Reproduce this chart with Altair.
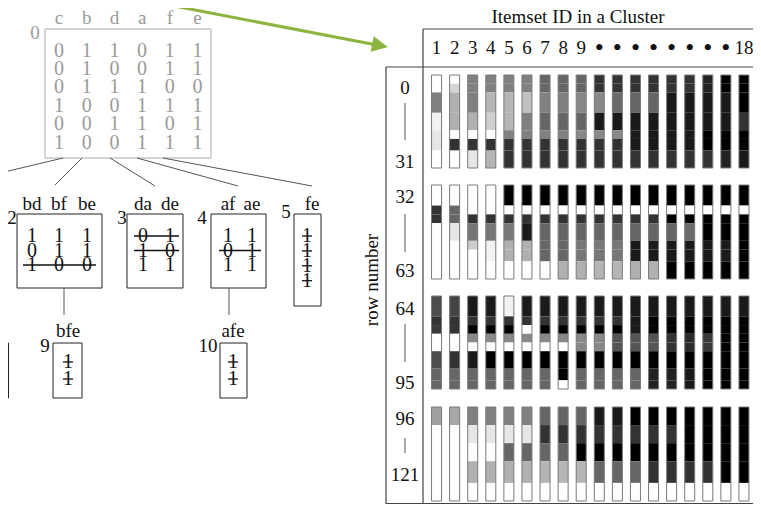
import altair as alt
import pandas as pd

SERIF = "Liberation Serif"

# ---------------- DATA ----------------
root_items = ["c", "b", "d", "a", "f", "e"]
root_matrix = [
    [0, 1, 1, 0, 1, 1],
    [0, 1, 0, 0, 1, 1],
    [0, 1, 1, 1, 0, 0],
    [1, 0, 0, 1, 1, 1],
    [0, 0, 1, 1, 0, 1],
    [1, 0, 0, 1, 1, 1],
]
node_ids = ["2", "3", "4", "5", "9", "10"]
node_items = [["bd", "bf", "be"], ["da", "de"], ["af", "ae"], ["fe"], ["bfe"], ["afe"]]
node_values = [
    [[1, 1, 1], [0, 1, 1], [1, 0, 0]],
    [[0, 1], [1, 0], [1, 1]],
    [[1, 1], [0, 1], [1, 1]],
    [[1], [1], [1], [1]],
    [[1], [1]],
    [[1], [1]],
]
node_pruned = [[2], [0, 1], [1], [0, 1, 2, 3], [0, 1], [0, 1]]
tree_edges = [("0", "1"), ("0", "2"), ("0", "3"), ("0", "4"), ("0", "5"), ("2", "9"), ("4", "10")]

panel_title = "Itemset ID in a Cluster"
row_axis_title = "row number"
itemset_ids = list(range(1, 19))
itemset_labels = [str(i) for i in range(1, 10)] + ["\u2022"] * 8 + ["18"]
row_groups = [(0, 31), (32, 63), (64, 95), (96, 121)]

# band edges (rows relative to group start) and grey shade (0=black, 255=white) per itemset
g1_edges = [0, 3, 6, 13, 19, 22, 26, 32]
g1_shades = [
    [255, 255, 128, 242, 230, 230, 255],
    [255, 212, 176, 176, 255, 51, 255],
    [128, 128, 128, 176, 255, 51, 230],
    [128, 128, 181, 208, 255, 51, 181],
    [128, 128, 181, 181, 128, 51, 51],
    [128, 128, 192, 128, 128, 51, 51],
    [102, 102, 128, 102, 128, 51, 51],
    [102, 102, 128, 102, 128, 51, 51],
    [102, 102, 136, 102, 136, 51, 51],
    [51, 51, 136, 26, 136, 51, 51],
    [51, 51, 106, 26, 136, 51, 51],
    [51, 51, 102, 26, 26, 26, 51],
    [51, 51, 102, 26, 26, 26, 51],
    [51, 51, 26, 26, 26, 26, 51],
    [51, 51, 26, 26, 26, 26, 51],
    [34, 34, 26, 26, 0, 0, 51],
    [0, 0, 26, 26, 0, 0, 34],
    [0, 0, 0, 51, 0, 0, 26],
]
g2_edges = [0, 7, 10, 13, 19, 22, 26, 32]
g2_shades = [
    [255, 51, 51, 255, 255, 255, 255],
    [255, 102, 102, 230, 255, 255, 255],
    [255, 255, 51, 119, 204, 255, 255],
    [255, 255, 51, 119, 242, 242, 255],
    [0, 255, 51, 119, 176, 176, 255],
    [0, 255, 51, 26, 176, 176, 255],
    [0, 255, 51, 102, 102, 102, 255],
    [0, 255, 51, 102, 102, 102, 176],
    [0, 255, 51, 102, 119, 119, 176],
    [0, 255, 51, 102, 119, 119, 181],
    [0, 255, 51, 102, 119, 119, 181],
    [0, 255, 51, 102, 26, 26, 176],
    [0, 255, 51, 102, 26, 26, 176],
    [0, 255, 0, 102, 26, 26, 0],
    [0, 255, 0, 106, 26, 26, 0],
    [0, 255, 0, 0, 26, 26, 0],
    [0, 255, 0, 0, 26, 26, 0],
    [0, 255, 0, 0, 0, 0, 0],
]
g3_edges = [0, 7, 10, 13, 16, 19, 25, 29, 32]
g3_shades = [
    [77, 51, 58, 255, 255, 77, 102, 102],
    [68, 51, 51, 255, 255, 51, 102, 102],
    [26, 51, 0, 136, 255, 26, 102, 102],
    [26, 51, 0, 136, 255, 0, 102, 102],
    [242, 51, 0, 136, 255, 0, 102, 102],
    [26, 51, 255, 136, 255, 0, 102, 102],
    [26, 51, 0, 136, 255, 0, 102, 102],
    [26, 51, 0, 136, 255, 0, 0, 255],
    [26, 51, 0, 136, 136, 0, 102, 102],
    [26, 51, 0, 136, 136, 0, 102, 102],
    [26, 51, 0, 85, 85, 0, 102, 102],
    [26, 26, 26, 85, 85, 0, 102, 102],
    [26, 0, 0, 85, 85, 0, 34, 34],
    [26, 0, 0, 51, 51, 0, 34, 34],
    [26, 0, 0, 42, 42, 0, 26, 26],
    [26, 0, 0, 58, 58, 0, 0, 0],
    [26, 0, 0, 0, 0, 0, 0, 0],
    [26, 0, 0, 0, 0, 0, 0, 0],
]
g4_edges = [0, 5, 10, 15, 21, 26]
g4_shades = [
    [160, 255, 255, 255, 255],
    [168, 255, 255, 255, 255],
    [128, 230, 255, 176, 255],
    [128, 230, 255, 176, 255],
    [128, 230, 102, 176, 255],
    [128, 230, 102, 176, 255],
    [102, 51, 102, 181, 255],
    [102, 51, 102, 181, 255],
    [102, 51, 0, 181, 255],
    [26, 51, 0, 102, 255],
    [26, 51, 0, 102, 255],
    [0, 51, 0, 102, 255],
    [0, 51, 0, 51, 255],
    [0, 51, 0, 51, 255],
    [0, 0, 0, 51, 255],
    [0, 0, 0, 51, 255],
    [0, 0, 0, 0, 255],
    [0, 0, 0, 0, 255],
]
group_edges = [g1_edges, g2_edges, g3_edges, g4_edges]
group_shades = [g1_shades, g2_shades, g3_shades, g4_shades]

# ---------------- LAYOUT (page pixels; the chart starts at page 8,8) ----------------
W, H = 745, 496
X = alt.Scale(domain=[8, 8 + W], range=[0, W])
Y = alt.Scale(domain=[8, 8 + H], range=[0, H])
GREY, DARK, GREEN = "#9a9a9a", "#111111", "#8db43e"

ROOT = dict(label=(35, 33), box=(45, 29, 211, 158), col0=59, col_step=27.7,
            head_y=18, row0=50.5, row_step=18.45)
NODES = {
    "2": dict(label=(12, 218), box=(17, 214, 102, 288), cols=(32, 59, 87), head_y=204, row0=236, row_step=14.5),
    "3": dict(label=(122, 218), box=(127, 214, 183, 288), cols=(143, 170), head_y=204, row0=236, row_step=14.5),
    "4": dict(label=(202, 218), box=(211, 214, 266, 288), cols=(228, 252), head_y=204, row0=236, row_step=14.5),
    "5": dict(label=(286, 212), box=(294, 214, 321, 306), cols=(307,), head_x=(312,), head_y=204, row0=236, row_step=14.9),
    "9": dict(label=(45, 346), box=(53, 343, 82, 398), cols=(68,), head_y=331, row0=362, row_step=17),
    "10": dict(label=(208, 346), box=(220, 343, 247, 398), cols=(233,), head_y=331, row0=362, row_step=17),
}
EDGE_PTS = {
    ("0", "1"): ((63, 158), (0, 173)),
    ("0", "2"): ((82, 158), (55, 185)),
    ("0", "3"): ((110, 158), (155, 186)),
    ("0", "4"): ((137, 158), (238, 186)),
    ("0", "5"): ((163, 158), (312, 186)),
    ("2", "9"): ((64, 288), (64, 315)),
    ("4", "10"): ((229, 288), (229, 315)),
}
PARTIAL_BOX = (-40, 343, 8.5, 398)
ARROW = dict(start=(143, 0), end=(378, 45.2), head=(380, 45.5), angle=10.86)

COL_RANGE = [427.5 - 8, 753 - 8]
BAR_HALF = 0.277
GROUP_PX = [(75, 168), (185, 279), (296, 389), (407, 501)]
ROW_LABEL_Y = [(88, 162), (197, 271), (309, 383), (419, 475)]
ROW_TICK_Y = [(103, 140), (214, 252), (324, 362), (438, 453)]
ROW_LABEL_X = 405
TITLE_POS = (578, 17)
HEADER_Y = 48
AXIS_TITLE_POS = (372, 280)
BOTTOM_Y = 503.5
FRAME = [((423, 29), (423, BOTTOM_Y)), ((423, 29), (761, 29)), ((386, 67), (761, 67)),
         ((386, 67), (386, BOTTOM_Y)), ((386, BOTTOM_Y), (761, BOTTOM_Y))]

# ---------------- BUILD TABLES ----------------
texts, rules, boxes = [], [], []


def add_text(x, y, t, fs, col):
    texts.append(dict(x=x, y=y, text=t, fs=fs, col=col))


def add_rule(p, q, col, w):
    rules.append(dict(x=p[0], y=p[1], x2=q[0], y2=q[1], col=col, w=w))


for i, it in enumerate(root_items):
    add_text(ROOT["col0"] + i * ROOT["col_step"], ROOT["head_y"], it, 19, GREY)
for r, row in enumerate(root_matrix):
    for j, v in enumerate(row):
        add_text(ROOT["col0"] + j * ROOT["col_step"], ROOT["row0"] + r * ROOT["row_step"], str(v), 20, GREY)
add_text(*ROOT["label"], "0", 19, GREY)
b = ROOT["box"]
boxes.append(dict(x=b[0], y=b[1], x2=b[2], y2=b[3], col="#aaaaaa"))

for nid, items, vals, pruned in zip(node_ids, node_items, node_values, node_pruned):
    L = NODES[nid]
    cols = L["cols"]
    hx = L.get("head_x", cols)
    for j, it in enumerate(items):
        add_text(hx[j], L["head_y"], it, 19, DARK)
    for r, row in enumerate(vals):
        for j, v in enumerate(row):
            add_text(cols[j], L["row0"] + r * L["row_step"], str(v), 20, DARK)
    add_text(*L["label"], nid, 19, DARK)
    b = L["box"]
    boxes.append(dict(x=b[0], y=b[1], x2=b[2], y2=b[3], col="#222222"))
    ext = 5 if len(cols) == 1 else 9
    for r in pruned:
        yy = L["row0"] + r * L["row_step"]
        add_rule((cols[0] - ext, yy), (cols[-1] + ext, yy), DARK, 1.3)

b = PARTIAL_BOX
boxes.append(dict(x=b[0], y=b[1], x2=b[2], y2=b[3], col="#222222"))
for e in tree_edges:
    p, q = EDGE_PTS[e]
    add_rule(p, q, "#555555", 1)

for p, q in FRAME:
    add_rule(p, q, "#444444", 1.2)
for gi, (s, e) in enumerate(row_groups):
    add_text(ROW_LABEL_X, ROW_LABEL_Y[gi][0], str(s), 19, DARK)
    add_text(ROW_LABEL_X, ROW_LABEL_Y[gi][1], str(e), 19, DARK)
    add_rule((ROW_LABEL_X, ROW_TICK_Y[gi][0]), (ROW_LABEL_X, ROW_TICK_Y[gi][1]), "#555555", 1)
add_text(*TITLE_POS, panel_title, 19, DARK)
add_rule(ARROW["start"], ARROW["end"], GREEN, 3)

texts_df = pd.DataFrame(texts)
rules_df = pd.DataFrame(rules)
boxes_df = pd.DataFrame(boxes)


# ---------------- LAYERS ----------------
def xq(f, scale=X):
    return alt.X(f, type="quantitative", scale=scale, axis=None)


def yq(f, scale=Y):
    return alt.Y(f, type="quantitative", scale=scale, axis=None)


layers = []

layers.append(alt.Chart(boxes_df).mark_rect(fillOpacity=0, strokeWidth=1).encode(
    x=xq("x"), x2="x2", y=yq("y"), y2="y2",
    stroke=alt.Stroke("col:N", scale=None)))

layers.append(alt.Chart(rules_df).mark_rule(strokeCap="butt").encode(
    x=xq("x"), x2="x2", y=yq("y"), y2="y2",
    color=alt.Color("col:N", scale=None),
    strokeWidth=alt.StrokeWidth("w:Q", scale=None)))

layers.append(alt.Chart(pd.DataFrame([dict(x=ARROW["head"][0], y=ARROW["head"][1])])).mark_point(
    shape="M-1,-1L1,0L-1,1Z", size=256, filled=True, color=GREEN, opacity=1, angle=ARROW["angle"]).encode(
    x=xq("x"), y=yq("y")))

layers.append(alt.Chart(texts_df).mark_text(font=SERIF, align="center", baseline="middle").encode(
    x=xq("x"), y=yq("y"), text="text:N",
    size=alt.Size("fs:Q", scale=None),
    color=alt.Color("col:N", scale=None)))

layers.append(alt.Chart(pd.DataFrame([dict(x=AXIS_TITLE_POS[0], y=AXIS_TITLE_POS[1], text=row_axis_title)])).mark_text(
    font=SERIF, fontSize=19, angle=270, align="center", baseline="middle", color=DARK).encode(
    x=xq("x"), y=yq("y"), text="text:N"))

COL = alt.Scale(domain=[0.5, 18.5], range=COL_RANGE)
SHADE = alt.Scale(domain=[0, 255], range=["#000000", "#ffffff"], interpolate="rgb")

hdr_df = pd.DataFrame(dict(item=itemset_ids, text=itemset_labels, y=HEADER_Y,
                           fs=[26 if t == "\u2022" else 19 for t in itemset_labels]))
layers.append(alt.Chart(hdr_df).mark_text(
    font=SERIF, align="center", baseline="middle", color=DARK).encode(
    x=xq("item", COL), y=yq("y"), text="text:N", size=alt.Size("fs:Q", scale=None)))

for gi, (s, e) in enumerate(row_groups):
    edges, shades = group_edges[gi], group_shades[gi]
    seg = []
    for ci, item in enumerate(itemset_ids):
        for bi in range(len(edges) - 1):
            seg.append(dict(xl=item - BAR_HALF, xr=item + BAR_HALF,
                            r0=s + edges[bi], r1=s + edges[bi + 1], shade=shades[ci][bi]))
    seg_df = pd.DataFrame(seg)
    out_df = pd.DataFrame(dict(xl=[i - BAR_HALF for i in itemset_ids], xr=[i + BAR_HALF for i in itemset_ids],
                               r0=s, r1=e + 1))
    top, bot = GROUP_PX[gi]
    YS = alt.Scale(domain=[s, e + 1], range=[top - 8, bot - 8])
    layers.append(alt.Chart(seg_df).mark_rect().encode(
        x=xq("xl", COL), x2="xr", y=yq("r0", YS), y2="r1",
        color=alt.Color("shade:Q", scale=SHADE, legend=None)))
    layers.append(alt.Chart(out_df).mark_rect(fillOpacity=0, stroke="#7a7a7a", strokeWidth=1).encode(
        x=xq("xl", COL), x2="xr", y=yq("r0", YS), y2="r1"))

chart = alt.layer(*layers).resolve_scale(
    x="independent", y="independent", color="independent", stroke="independent",
    size="independent", strokeWidth="independent"
).properties(
    width=W, height=H, autosize=alt.AutoSizeParams(type="none"),
    padding={"left": 0, "top": 0, "right": 0, "bottom": 0}, background="white"
).configure_view(stroke=None)

chart.save("out.html", embed_options={"renderer": "svg", "actions": False})
